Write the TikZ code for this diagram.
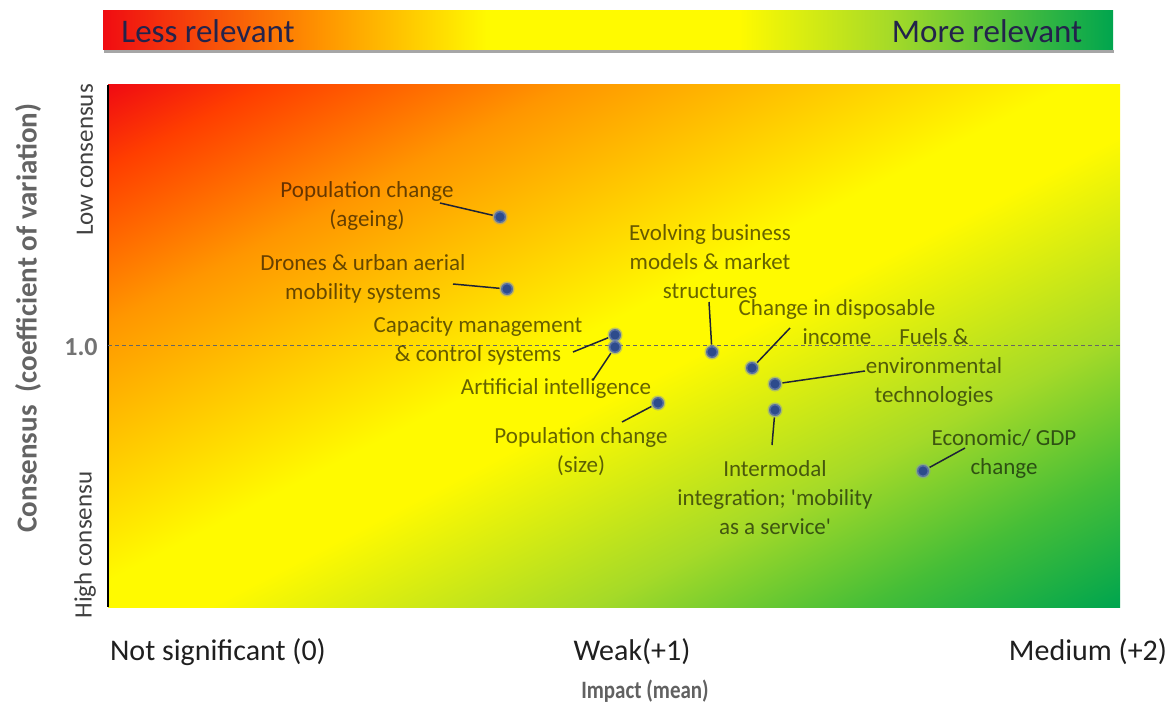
\documentclass[tikz,border=0pt]{standalone}
\usepackage{fontspec}
\setmainfont{Carlito}
\definecolor{cRed}{RGB}{240,12,18}
\definecolor{cRedO}{RGB}{255,62,0}
\definecolor{cOrange}{RGB}{255,150,0}
\definecolor{cOrangeY}{RGB}{255,200,0}
\definecolor{cYellow}{RGB}{255,250,0}
\definecolor{cLime}{RGB}{165,218,40}
\definecolor{cLime2}{RGB}{70,190,55}
\definecolor{cGreen}{RGB}{0,165,78}
\definecolor{dotblue}{RGB}{45,75,140}
\definecolor{barText}{RGB}{35,35,75}
\definecolor{leadc}{RGB}{30,35,55}
\definecolor{axgray}{RGB}{100,100,100}
\pgfdeclarehorizontalshading{barshade}{100bp}{color(0bp)=(cRed); color(25bp)=(cRed); color(36bp)=(cOrange); color(44bp)=(cYellow); color(56.5bp)=(cYellow); color(64bp)=(cLime); color(75bp)=(cGreen); color(100bp)=(cGreen)}
\pgfdeclareverticalshading{plotshade}{100bp}{color(0bp)=(cGreen); color(14.6bp)=(cGreen); color(23.5bp)=(cLime2); color(33bp)=(cLime); color(46.5bp)=(cYellow); color(51.8bp)=(cYellow); color(60.6bp)=(cOrangeY); color(69.4bp)=(cOrange); color(80bp)=(cRedO); color(85.4bp)=(cRed); color(100bp)=(cRed)}
\begin{document}
\begin{tikzpicture}[x=1pt,y=-1pt,
  lbl/.style={font=\fontsize{23}{29}\selectfont, align=center, text=black, text opacity=0.6, inner sep=0pt},
  dot/.style={circle, fill=dotblue, draw=dotblue!60, draw opacity=0.5, line width=3pt, minimum size=12pt, inner sep=0pt},
  lead/.style={draw=leadc, line width=1.5pt},
  bartext/.style={font=\fontsize{33}{36}\selectfont, text=barText, inner sep=0pt},
  xlab/.style={font=\fontsize{30}{32}\selectfont, text=black!88, inner sep=0pt},
  ylab/.style={font=\fontsize{25}{27}\selectfont, text=black!75, inner sep=0pt, rotate=90},
]
\useasboundingbox (0,0) rectangle (1175,706);
\fill[white] (0,0) rectangle (1175,706);
% top bar
\fill[black!35] (104,50) rectangle (1114,53);
\shade[shading=barshade] (103,11) rectangle (1113,50);
\node[bartext] (less) at (208,31) {Less relevant};
\node[bartext] (more) at (987,31) {More relevant};
% plot background
\begin{scope}[transform canvas={shift={(108,607)}, xscale=10.12, yscale=5.22}]
  \shade[shading=plotshade, shading angle=45] (0pt,0pt) rectangle (100pt,100pt);
\end{scope}
\draw[black, line width=2pt] (108,85) -- (108,607);
\coordinate (dl) at (108,345);
\coordinate (dr) at (1120,345);
\draw[black!60, line width=1pt, dash pattern=on 4pt off 3pt] (dl) -- (dr);
% axis labels
\node[font=\bfseries\fontsize{29}{31}\selectfont, text=axgray, rotate=90, inner sep=0pt] (ytitle) at (28,318) {Consensus\ \ (coefficient of variation)};
\node[ylab] (low) at (85,160) {Low consensus};
\node[ylab] (high) at (85,545) {High consensu};
\node[font=\bfseries\fontsize{26}{28}\selectfont, text=black!55, inner sep=0pt] (one) at (81,347) {1.0};
\node[xlab] (x0) at (218,652) {Not significant (0)};
\node[xlab] (x1) at (632,652) {Weak(+1)};
\node[xlab] (x2) at (1088,652) {Medium (+2)};
\node[font=\bfseries\fontsize{25}{27}\selectfont, text=black!62, inner sep=0pt, xscale=0.84, transform shape] (xtitle) at (645,691) {Impact (mean)};
% labels
\node[lbl] (l1) at (367,206) {Population change\\(ageing)};
\node[lbl] (l2) at (363,279) {Drones \& urban aerial\\mobility systems};
\node[lbl] (l3) at (478,341) {Capacity management\\\& control systems};
\node[lbl] (l4) at (556,388) {Artificial intelligence};
\node[lbl] (l5) at (581,452) {Population change\\(size)};
\node[lbl] (l6) at (710,262) {Evolving business\\models \& market\\structures};
\node[lbl] (l7) at (837,322) {Change in disposable\\income};
\node[lbl] (l8) at (934,367) {Fuels \&\\environmental\\technologies};
\node[lbl] (l9) at (775,498) {Intermodal\\integration; \textquotesingle mobility\\as a service\textquotesingle};
\node[lbl] (l10) at (1004,454) {Economic/ GDP\\change};
% leader start points
\coordinate (c1) at (440,203);
\coordinate (c2) at (453,284);
\coordinate (c3) at (573,352);
\coordinate (c4) at (593,380);
\coordinate (c5) at (622,422);
\coordinate (c6) at (709,302);
\coordinate (c7) at (790,328);
\coordinate (c8) at (865,371);
\coordinate (c9) at (772,445);
\coordinate (c10) at (965,448);
% dots
\node[dot] (d1) at (500,217) {};
\node[dot] (d2) at (507,289) {};
\node[dot] (d3) at (615,335) {};
\node[dot] (d4) at (615,347) {};
\node[dot] (d5) at (658,403) {};
\node[dot] (d6) at (712,352) {};
\node[dot] (d7) at (752,368) {};
\node[dot] (d8) at (775,384) {};
\node[dot] (d9) at (775,410) {};
\node[dot] (d10) at (923,471) {};
\draw[lead] (c1) -- (d1);
\draw[lead] (c2) -- (d2);
\draw[lead] (c3) -- (d3);
\draw[lead] (c4) -- (d4);
\draw[lead] (c5) -- (d5);
\draw[lead] (c6) -- (d6);
\draw[lead] (c7) -- (d7);
\draw[lead] (c8) -- (d8);
\draw[lead] (c9) -- (d9);
\draw[lead] (c10) -- (d10);
\end{tikzpicture}
\end{document}
